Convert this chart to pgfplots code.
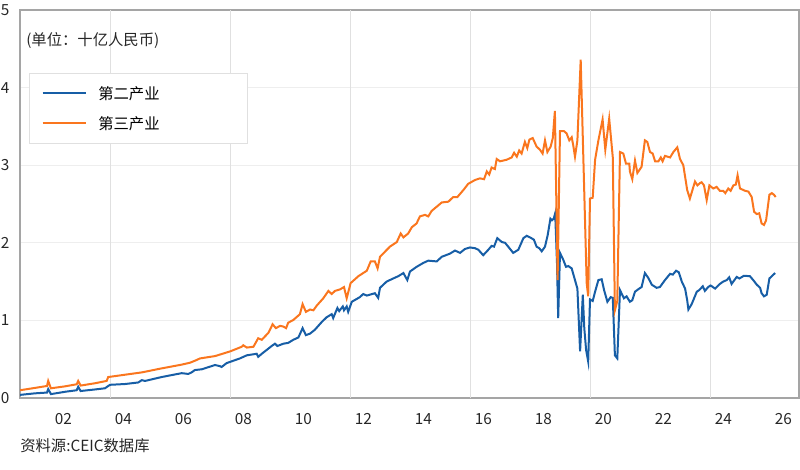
\documentclass[border=0pt]{standalone}
\usepackage{pgfplots}
\pgfplotsset{compat=1.18}
\usepackage{fontspec}
\setmainfont{Noto Sans CJK SC}
\definecolor{cblue}{RGB}{23,94,166}
\definecolor{corange}{RGB}{250,118,30}
\definecolor{gridh}{RGB}{238,238,238}
\definecolor{gridv}{RGB}{224,224,224}
\definecolor{axgray}{RGB}{165,165,165}
\begin{document}
\begin{tikzpicture}
\begin{axis}[
  scale only axis,
  width=584.25pt, height=291pt,
  at={(0pt,0pt)}, anchor=south west,
  xmin=2000.5, xmax=2026.467,
  ymin=0, ymax=5,
  ytick={0,1,2,3,4,5},
  xtick={2001.95,2003.95,2005.95,2007.95,2009.95,2011.95,2013.95,2015.95,2017.95,2019.95,2021.95,2023.95,2025.95},
  xticklabels={02,04,06,08,10,12,14,16,18,20,22,24,26},
  extra x ticks={2003.5,2007.5,2011.5,2015.5,2019.5,2023.5},
  extra x tick labels={},
  extra x tick style={grid=major, major grid style={draw=gridv, line width=0.7pt}},
  ymajorgrids, major grid style={draw=gridh, line width=0.7pt},
  major tick length=0pt,
  axis line style={draw=axgray, line width=0.8pt},
  tick label style={font=\fontsize{11.5pt}{13pt}\selectfont, text=black!85},
  /pgf/number format/assume math mode=true,
  yticklabel style={anchor=west, inner sep=0pt, xshift=-14.5pt},
  xticklabel style={anchor=north, inner sep=0pt, yshift=-11.25pt},
  legend style={at={(0.0119,0.8384)}, anchor=north west, draw=gridv, fill=white,
    inner xsep=9pt, inner ysep=4pt, row sep=0pt, column sep=8.8pt,
    nodes={inner sep=0pt, anchor=base west, text height=15.65pt, text depth=6.85pt},
    font=\fontsize{11.5pt}{13pt}\selectfont},
  legend image code/.code={\draw[#1] (0pt,4.4pt) -- (32.25pt,4.4pt);},
  legend cell align=left,
]
\addplot[cblue, line width=1.5pt] coordinates {
(2000.50,0.04) (2001.00,0.06) (2001.40,0.07) (2001.44,0.115) (2001.53,0.05)
(2002.00,0.08) (2002.39,0.10) (2002.44,0.145) (2002.52,0.09) (2003.00,0.11)
(2003.33,0.125) (2003.50,0.17) (2004.00,0.18) (2004.44,0.20) (2004.56,0.23)
(2004.67,0.22) (2005.22,0.27) (2005.89,0.32) (2006.11,0.31) (2006.22,0.33)
(2006.33,0.36) (2006.56,0.37) (2007.00,0.425) (2007.17,0.41) (2007.22,0.40)
(2007.39,0.45) (2007.83,0.51) (2008.06,0.55) (2008.39,0.57) (2008.44,0.53)
(2008.56,0.57) (2008.89,0.67) (2009.00,0.70) (2009.08,0.67) (2009.28,0.70)
(2009.44,0.71) (2009.61,0.75) (2009.78,0.78) (2009.92,0.90) (2010.03,0.81)
(2010.17,0.83) (2010.33,0.88) (2010.56,0.98) (2010.72,1.04) (2010.89,1.08)
(2010.94,1.03) (2011.08,1.16) (2011.14,1.12) (2011.26,1.18) (2011.30,1.13)
(2011.39,1.18) (2011.44,1.11) (2011.56,1.24) (2011.83,1.30) (2011.94,1.34)
(2012.06,1.32) (2012.33,1.35) (2012.44,1.29) (2012.50,1.42) (2012.72,1.50)
(2012.94,1.54) (2013.11,1.57) (2013.28,1.61) (2013.41,1.52) (2013.50,1.63)
(2013.72,1.69) (2013.94,1.74) (2014.11,1.77) (2014.39,1.76) (2014.56,1.82)
(2014.83,1.86) (2015.00,1.90) (2015.17,1.87) (2015.33,1.92) (2015.50,1.94)
(2015.67,1.93) (2015.78,1.91) (2015.94,1.84) (2016.11,1.91) (2016.22,1.96)
(2016.30,1.95) (2016.41,2.06) (2016.56,2.01) (2016.67,2.00) (2016.94,1.87)
(2017.11,1.91) (2017.28,2.06) (2017.39,2.09) (2017.50,2.07) (2017.63,2.04)
(2017.72,1.95) (2017.81,1.93) (2017.89,1.89) (2018.00,1.95) (2018.09,2.10)
(2018.18,2.31) (2018.23,2.29) (2018.29,2.31) (2018.34,2.38) (2018.40,1.74)
(2018.44,1.03) (2018.50,1.87) (2018.61,1.78) (2018.70,1.69) (2018.78,1.70)
(2018.89,1.67) (2018.97,1.56) (2019.08,1.41) (2019.17,0.60) (2019.26,1.33)
(2019.31,0.90) (2019.37,0.62) (2019.44,0.47) (2019.50,1.27) (2019.59,1.25)
(2019.67,1.37) (2019.78,1.52) (2019.89,1.53) (2019.97,1.39) (2020.08,1.24)
(2020.19,1.30) (2020.26,1.29) (2020.33,0.55) (2020.41,0.51) (2020.50,1.39)
(2020.63,1.285) (2020.72,1.31) (2020.83,1.24) (2020.91,1.26) (2021.00,1.37)
(2021.14,1.41) (2021.22,1.43) (2021.33,1.61) (2021.44,1.55) (2021.56,1.46)
(2021.72,1.42) (2021.83,1.43) (2022.00,1.52) (2022.17,1.60) (2022.26,1.59)
(2022.37,1.64) (2022.46,1.62) (2022.56,1.50) (2022.67,1.41) (2022.74,1.26)
(2022.78,1.14) (2022.89,1.21) (2023.06,1.37) (2023.14,1.39) (2023.26,1.44)
(2023.33,1.38) (2023.44,1.43) (2023.52,1.45) (2023.67,1.41) (2023.83,1.47)
(2023.94,1.50) (2024.06,1.52) (2024.14,1.555) (2024.22,1.47) (2024.39,1.56)
(2024.48,1.54) (2024.63,1.575) (2024.83,1.57) (2024.94,1.52) (2025.06,1.46)
(2025.17,1.42) (2025.22,1.35) (2025.30,1.31) (2025.39,1.33) (2025.48,1.54)
(2025.56,1.57) (2025.67,1.61)
};
\addlegendentry{\makebox[102.75pt][l]{第二产业}}
\addplot[corange, line width=1.5pt] coordinates {
(2000.50,0.10) (2001.00,0.13) (2001.40,0.155) (2001.44,0.22) (2001.53,0.125)
(2002.00,0.15) (2002.39,0.177) (2002.44,0.22) (2002.52,0.16) (2003.00,0.19)
(2003.39,0.22) (2003.44,0.27) (2004.00,0.30) (2004.56,0.33) (2005.20,0.38)
(2005.89,0.43) (2006.17,0.455) (2006.33,0.48) (2006.50,0.51) (2007.00,0.54)
(2007.50,0.60) (2007.89,0.66) (2007.94,0.68) (2008.06,0.65) (2008.28,0.66)
(2008.44,0.77) (2008.56,0.75) (2008.78,0.84) (2008.92,0.95) (2009.03,0.90)
(2009.17,0.93) (2009.28,0.92) (2009.37,0.90) (2009.44,0.97) (2009.61,1.005)
(2009.83,1.08) (2009.92,1.21) (2010.03,1.11) (2010.17,1.14) (2010.28,1.13)
(2010.39,1.19) (2010.61,1.285) (2010.78,1.38) (2010.89,1.34) (2011.00,1.38)
(2011.17,1.40) (2011.30,1.43) (2011.39,1.285) (2011.52,1.48) (2011.78,1.57)
(2012.06,1.64) (2012.19,1.76) (2012.33,1.76) (2012.42,1.67) (2012.50,1.82)
(2012.83,1.95) (2013.06,2.01) (2013.19,2.12) (2013.28,2.07) (2013.44,2.12)
(2013.56,2.20) (2013.72,2.25) (2013.83,2.34) (2014.00,2.36) (2014.11,2.34)
(2014.22,2.41) (2014.56,2.52) (2014.78,2.53) (2014.94,2.59) (2015.08,2.59)
(2015.28,2.68) (2015.44,2.76) (2015.67,2.81) (2015.83,2.83) (2015.97,2.82)
(2016.06,2.92) (2016.14,2.88) (2016.22,2.97) (2016.33,2.95) (2016.39,3.08)
(2016.50,3.05) (2016.72,3.07) (2016.89,3.10) (2016.97,3.16) (2017.06,3.11)
(2017.14,3.19) (2017.22,3.15) (2017.33,3.30) (2017.41,3.22) (2017.48,3.33)
(2017.59,3.35) (2017.72,3.24) (2017.83,3.20) (2017.92,3.15) (2018.00,3.32)
(2018.08,3.17) (2018.19,3.24) (2018.26,3.35) (2018.33,3.70) (2018.42,1.52)
(2018.50,3.44) (2018.63,3.44) (2018.72,3.41) (2018.81,3.32) (2018.89,3.36)
(2018.94,3.26) (2019.00,3.11) (2019.08,3.32) (2019.19,4.36) (2019.28,3.07)
(2019.39,1.48) (2019.44,1.31) (2019.50,2.57) (2019.59,2.58) (2019.67,3.07)
(2019.78,3.32) (2019.92,3.59) (2020.01,3.20) (2020.14,3.60) (2020.26,3.10)
(2020.33,1.13) (2020.41,1.25) (2020.50,3.17) (2020.61,3.15) (2020.70,3.02)
(2020.81,3.02) (2020.83,2.92) (2020.91,2.82) (2021.00,3.06) (2021.08,2.90)
(2021.22,2.98) (2021.33,3.32) (2021.41,3.30) (2021.50,3.17) (2021.59,3.15)
(2021.67,3.05) (2021.78,3.05) (2021.86,3.10) (2021.92,3.05) (2022.00,3.12)
(2022.17,3.10) (2022.28,3.17) (2022.41,3.23) (2022.50,3.08) (2022.61,3.00)
(2022.74,2.68) (2022.83,2.57) (2023.00,2.79) (2023.08,2.74) (2023.17,2.77)
(2023.22,2.78) (2023.30,2.74) (2023.39,2.55) (2023.48,2.74) (2023.61,2.70)
(2023.72,2.72) (2023.83,2.67) (2023.94,2.67) (2024.01,2.64) (2024.11,2.70)
(2024.19,2.67) (2024.28,2.74) (2024.36,2.75) (2024.42,2.87) (2024.50,2.70)
(2024.67,2.67) (2024.78,2.66) (2024.89,2.59) (2024.97,2.40) (2025.06,2.37)
(2025.14,2.38) (2025.22,2.25) (2025.30,2.23) (2025.37,2.29) (2025.48,2.62)
(2025.56,2.64) (2025.63,2.62) (2025.69,2.59)
};
\addlegendentry{\makebox[102.75pt][l]{第三产业}}
\end{axis}
\node[anchor=base west, inner sep=0pt, font=\fontsize{11.5pt}{13pt}\selectfont, text=black!85] at (4.5pt,264pt) {(单位：十亿人民币)};
\node[anchor=base west, inner sep=0pt, font=\fontsize{11.5pt}{13pt}\selectfont, text=black!85] at (0pt,-40.5pt) {资料源:CEIC数据库};
\pgfresetboundingbox
\useasboundingbox (-15pt,-54pt) rectangle (585pt,298.5pt);
\end{tikzpicture}
\end{document}
